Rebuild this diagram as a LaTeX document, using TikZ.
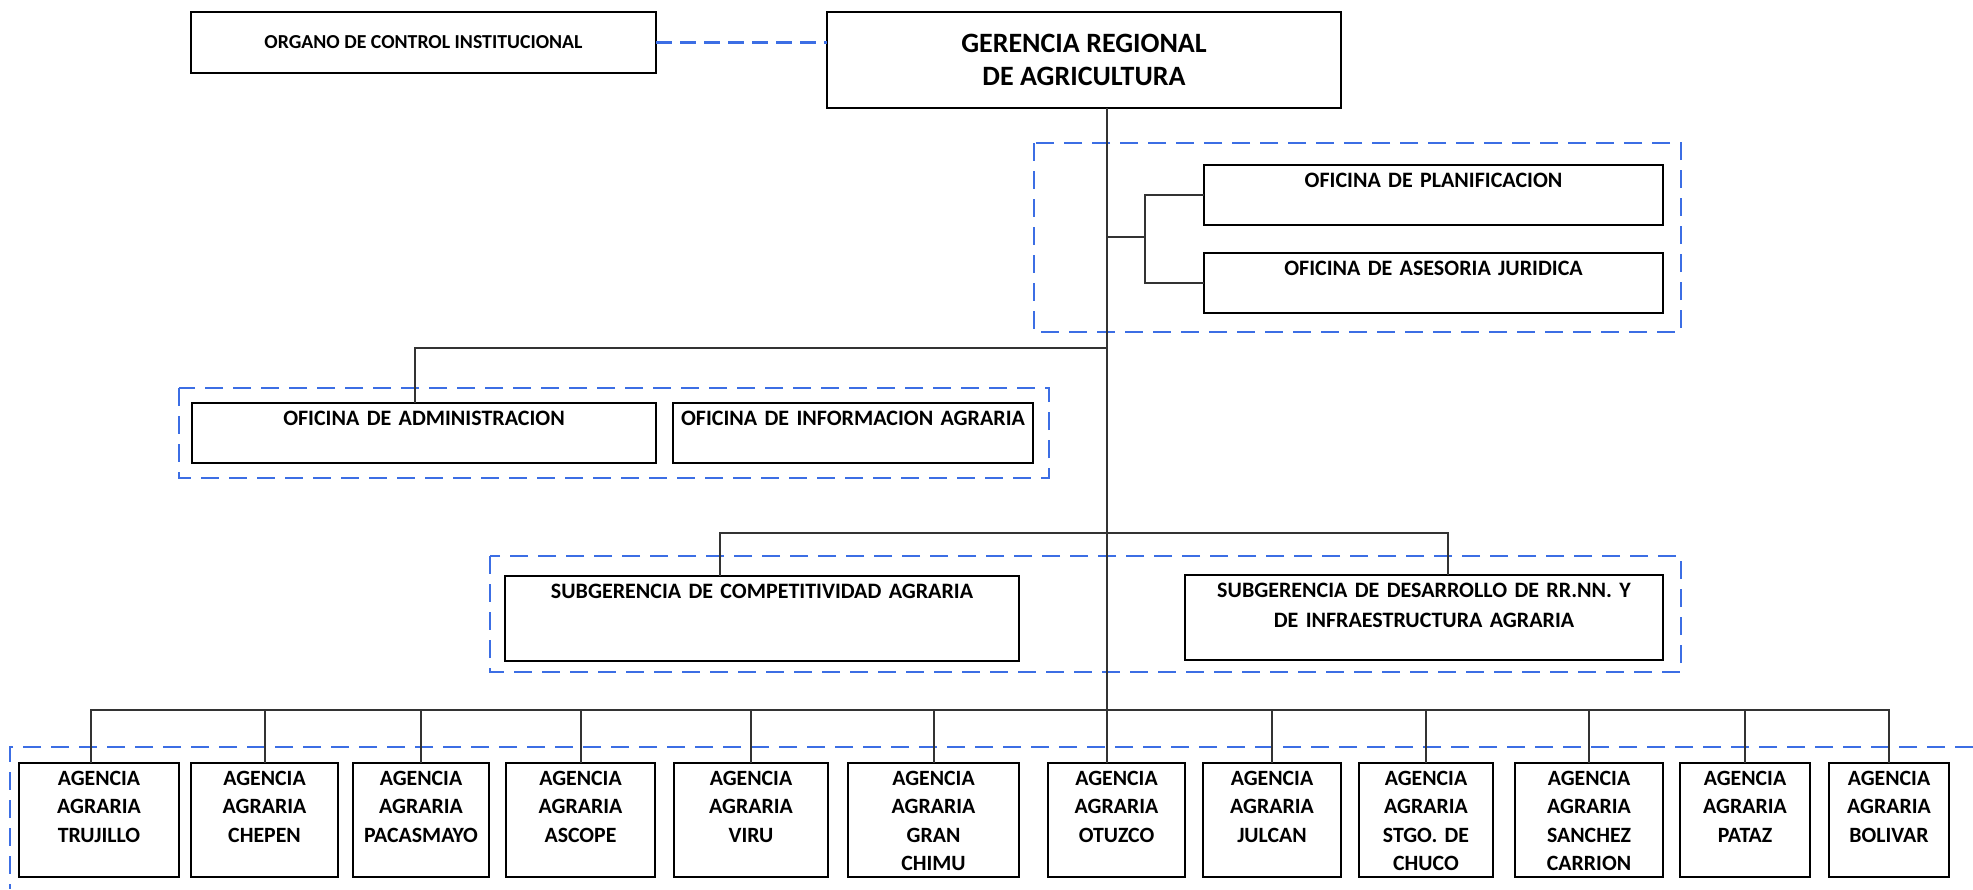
\documentclass[tikz,border=0pt]{standalone}
\usepackage{fontspec}
\setmainfont{Carlito}
\usetikzlibrary{positioning}
\definecolor{grpblue}{RGB}{60,110,228}

\begin{document}
\begin{tikzpicture}[x=0.5pt, y=-0.5pt, node distance=9pt,
	box/.style={draw, line width=1.3pt, fill=white, align=center, inner xsep=0pt, inner ysep=0pt, outer sep=0pt, font=\bfseries\fontsize{11}{15}\selectfont},
	unit/.style={box, anchor=north, text height=11pt, text depth=19pt},
	agency/.style={box, text width=#1, text height=11pt, text depth=46pt, font=\bfseries\fontsize{10.9}{14.3}\selectfont},
	group/.style={draw=grpblue, line width=1.2pt, dash pattern=on 9pt off 5pt},
	line/.style={draw=black!80, line width=1pt}]
	\useasboundingbox (0,0) rectangle (1973,889);

	\draw [group] (1034,143) rectangle (1681,332);
	\draw [group] (179,388) rectangle (1049,478);
	\draw [group] (490,556) rectangle (1681,672);
	\draw [group] (1973,747) -- (10,747) -- (10,889);

	\node [box, minimum width=257pt, minimum height=48pt, font=\bfseries\fontsize{14}{16.5}\selectfont] (1) at (1084,60) {GERENCIA REGIONAL\\DE AGRICULTURA};
	\node [box, minimum width=232.5pt, minimum height=30.5pt, font=\bfseries\fontsize{9.9}{12}\selectfont] (2) at (423.5,42.5) {ORGANO DE CONTROL INSTITUCIONAL};
	\node [unit, text width=229.5pt] (3) at (1433.5,165) {OFICINA DE PLANIFICACION};
	\node [unit, text width=229.5pt, below=14pt of 3] (4) {OFICINA DE ASESORIA JURIDICA};
	\node [unit, text width=232pt] (5) at (424,403) {OFICINA DE ADMINISTRACION};
	\node [unit, text width=180pt, right=8.5pt of 5] (6) {OFICINA DE INFORMACION AGRARIA};
	\node [unit, text width=257pt, text depth=31.5pt] (7) at (762,576) {SUBGERENCIA DE COMPETITIVIDAD AGRARIA};
	\node [unit, text width=239pt, text depth=31.5pt] (8) at (1424,575) {SUBGERENCIA DE DESARROLLO DE RR.NN. Y\\DE INFRAESTRUCTURA AGRARIA};

	\node [agency=80pt, anchor=north] (9) at (99,763) {AGENCIA\\AGRARIA\\TRUJILLO};
	\node [agency=73.5pt, right=6pt of 9] (10) {AGENCIA\\AGRARIA\\CHEPEN};
	\node [agency=68pt, right=7.5pt of 10] (11) {AGENCIA\\AGRARIA\\PACASMAYO};
	\node [agency=74.5pt, right=8.5pt of 11] (12) {AGENCIA\\AGRARIA\\ASCOPE};
	\node [agency=77pt, right=9.5pt of 12] (13) {AGENCIA\\AGRARIA\\VIRU};
	\node [agency=85.5pt, right=10pt of 13] (14) {AGENCIA\\AGRARIA\\GRAN\\CHIMU};
	\node [agency=68.5pt, right=14.5pt of 14] (15) {AGENCIA\\AGRARIA\\OTUZCO};
	\node [agency=69pt, right=9pt of 15] (16) {AGENCIA\\AGRARIA\\JULCAN};
	\node [agency=67pt, right=9pt of 16] (17) {AGENCIA\\AGRARIA\\STGO. DE\\CHUCO};
	\node [agency=74pt, right=11pt of 17] (18) {AGENCIA\\AGRARIA\\SANCHEZ\\CARRION};
	\node [agency=65pt, right=8.5pt of 18] (19) {AGENCIA\\AGRARIA\\PATAZ};
	\node [agency=60pt, right=9.5pt of 19] (20) {AGENCIA\\AGRARIA\\BOLIVAR};

	\coordinate (t) at ([xshift=11.5pt]1.south);
	\coordinate (j1) at (1145,237);
	\coordinate (j2) at (1107,348);
	\coordinate (j3) at (1107,533);
	\coordinate (j4) at (1107,710);

	\draw [group, line width=1.8pt, dash pattern=on 8pt off 4pt] (2.east) -- (2.east -| 1.west);
	\draw [line] (t) -- (t |- 15.north);
	\draw [line] (t |- j1) -- (j1);
	\draw [line] (3.west) -| (j1) |- (4.west);
	\draw [line] ([xshift=-4.5pt]5.north) |- (j2);
	\draw [line] ([xshift=-21pt]7.north) |- ([xshift=12pt]8.north |- j3) -- ([xshift=12pt]8.north);
	\draw [line] ([xshift=-4pt]9.north) |- (20.north |- j4) -- (20.north);
	\path [line]
		(10.north) edge (10.north |- j4)
		(11.north) edge (11.north |- j4)
		(12.north) edge (12.north |- j4)
		(13.north) edge (13.north |- j4)
		(14.north) edge (14.north |- j4)
		(16.north) edge (16.north |- j4)
		(17.north) edge (17.north |- j4)
		(18.north) edge (18.north |- j4)
		(19.north) edge (19.north |- j4)
		;

\end{tikzpicture}
\end{document}
